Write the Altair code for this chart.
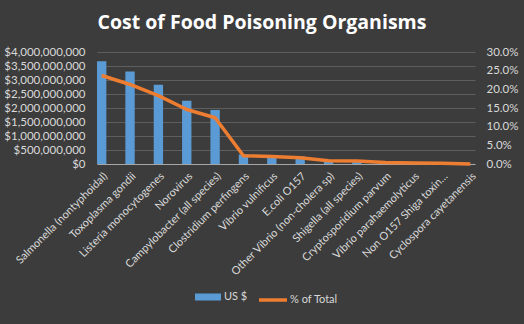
import altair as alt
import pandas as pd

organisms = [
    "Salmonella (nontyphoidal)", "Toxoplasma gondii", "Listeria monocytogenes",
    "Norovirus", "Campylobacter (all species)", "Clostridium perfingens",
    "Vibrio vulnificus", "E.coli O157", "Other Vibrio (non-cholera sp)",
    "Shigella (all species)", "Cryptosporidium parvum", "Vibrio parahaemolyticus",
    "Non O157 Shiga toxin…", "Cyclospora cayetanensis",
]
cost_usd = [3.67e9, 3.30e9, 2.83e9, 2.26e9, 1.93e9, 0.34e9, 0.32e9, 0.27e9,
            0.14e9, 0.13e9, 0.06e9, 0.045e9, 0.03e9, 0.002e9]
pct_total = [0.237, 0.213, 0.183, 0.146, 0.124, 0.022, 0.020, 0.017,
             0.009, 0.008, 0.004, 0.003, 0.002, 0.0001]
series_names = ["US $", "% of Total"]
series_colors = ["#5b9bd5", "#ed7d31"]

df = pd.DataFrame({"Organism": organisms, "Cost": cost_usd, "Pct": pct_total})
df["BarSeries"] = series_names[0]
df["LineSeries"] = series_names[1]

FONT = "Lato"
LABEL = "#d9d9d9"

x_enc = alt.X(
    "Organism:N", sort=organisms,
    scale=alt.Scale(paddingInner=0.67, paddingOuter=0),
    axis=alt.Axis(title=None, labelAngle=-45, labelColor=LABEL, labelFont=FONT,
                  labelFontSize=11, ticks=False, domainColor="#a6a6a6",
                  labelPadding=6, labelLimit=300),
)

bar_legend = alt.Legend(
    orient="none", legendX=98, legendY=232, title=None,
    symbolType="M-1,-0.27H1V0.27H-1Z", symbolSize=676, symbolStrokeWidth=0,
    labelColor=LABEL, labelFont=FONT, labelFontSize=11, padding=0, labelOffset=3,
)
line_legend = alt.Legend(
    orient="none", legendX=160, legendY=232, title=None,
    symbolType="stroke", symbolSize=784, symbolStrokeWidth=3.5,
    labelColor=LABEL, labelFont=FONT, labelFontSize=11, padding=0, labelOffset=1,
)

bars = alt.Chart(df).mark_bar().encode(
    x=x_enc,
    y=alt.Y("Cost:Q", scale=alt.Scale(domain=[0, 4e9]),
            axis=alt.Axis(title=None, format="$,.0f", values=[i * 5e8 for i in range(9)],
                          labelColor=LABEL, labelFont=FONT, labelFontSize=11.5,
                          ticks=False, domain=False, gridColor="#5e5e5e", labelPadding=12)),
    fill=alt.Fill("BarSeries:N", scale=alt.Scale(domain=[series_names[0]], range=[series_colors[0]]),
                  legend=bar_legend),
)

line = alt.Chart(df).mark_line(strokeWidth=3.5, strokeJoin="round").encode(
    x=x_enc,
    y=alt.Y("Pct:Q", scale=alt.Scale(domain=[0, 0.3]),
            axis=alt.Axis(title=None, format=".1%", orient="right", values=[0, .05, .1, .15, .2, .25, .3],
                          labelColor=LABEL, labelFont=FONT, labelFontSize=11.5,
                          ticks=False, domain=False, grid=False, labelPadding=11)),
    stroke=alt.Stroke("LineSeries:N", scale=alt.Scale(domain=[series_names[1]], range=[series_colors[1]]),
                      legend=line_legend),
)

chart = alt.layer(bars, line).resolve_scale(y="independent").properties(
    width=378, height=112,
    autosize=alt.AutoSizeParams(type="none"),
    padding={"left": 97, "top": 52, "right": 49, "bottom": 160},
    background="#3c3c3c",
    title=alt.TitleParams("Cost of Food Poisoning Organisms", font="Open Sans", fontSize=19.5,
                          fontWeight="bold", color="#ffffff", anchor="middle", dx=-24,
                          offset=13),
).configure_view(stroke=None)

chart.save("out.html", embed_options={"renderer": "svg", "actions": False})
